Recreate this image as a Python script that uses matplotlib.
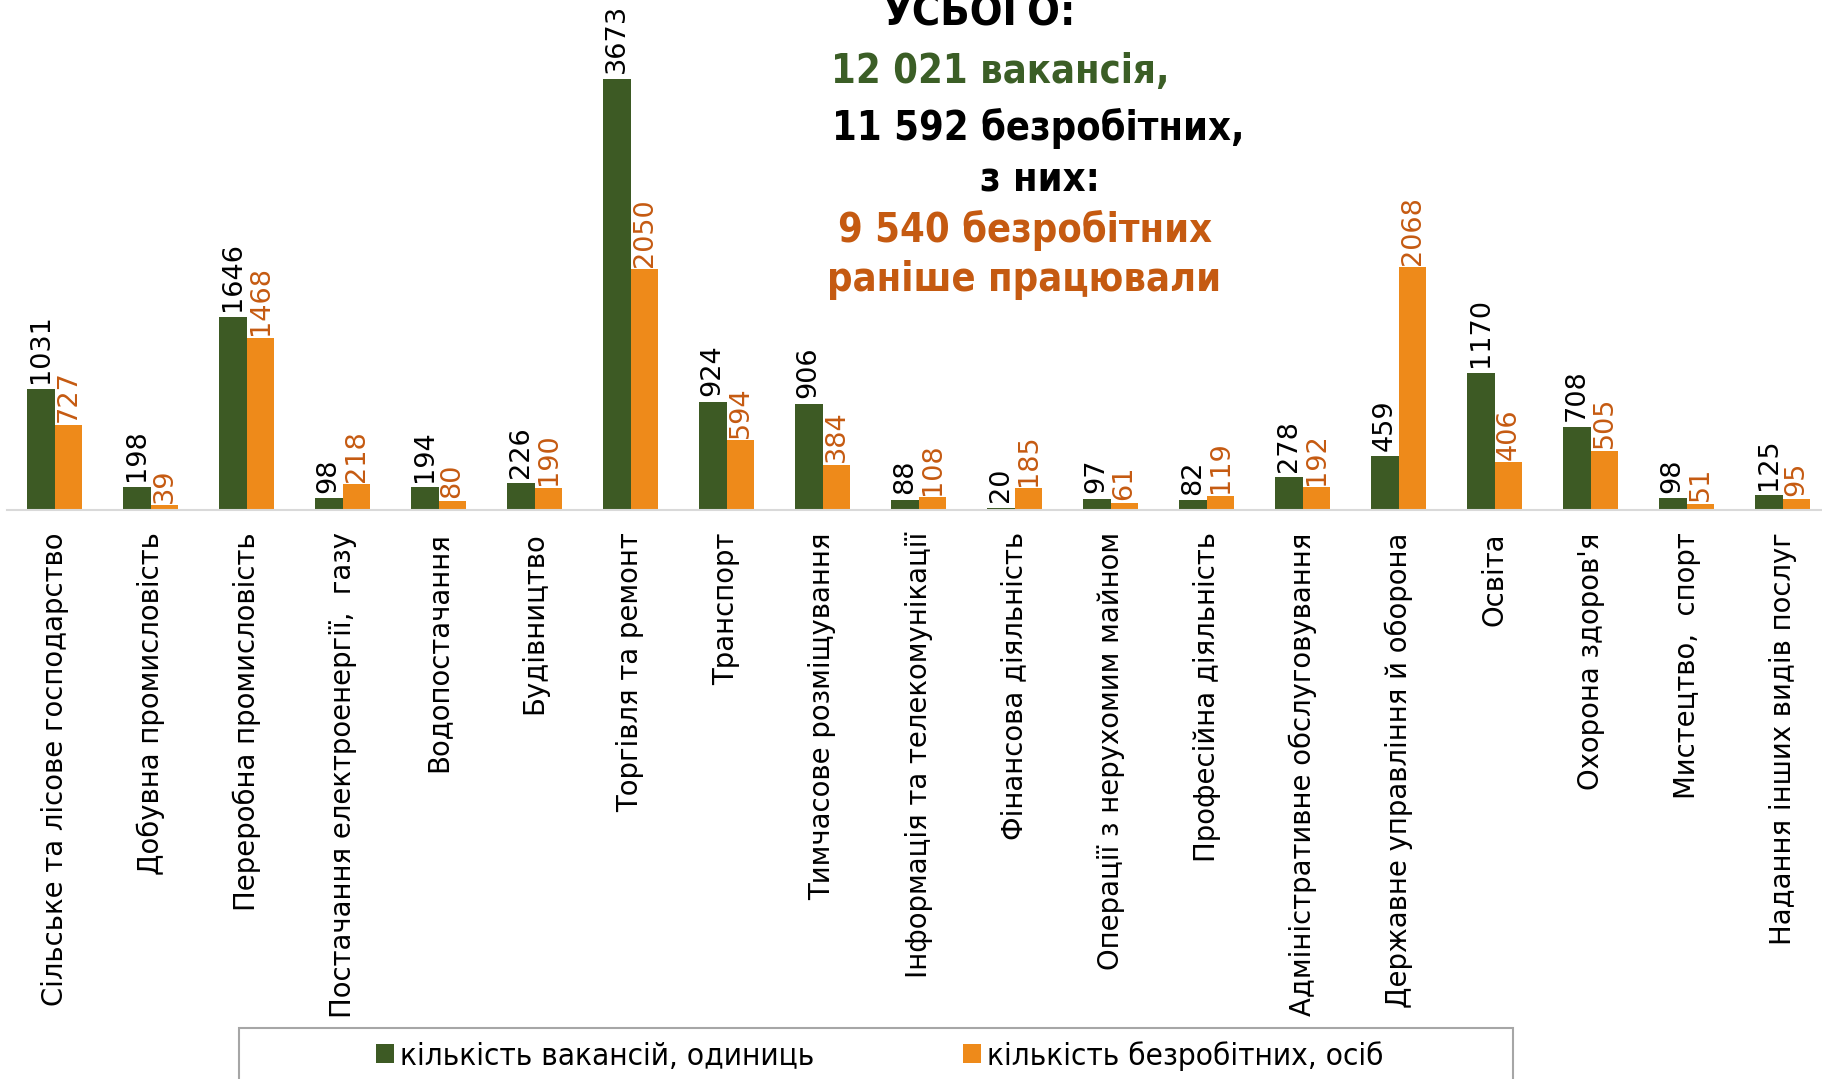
import matplotlib
matplotlib.use("Agg")
import matplotlib.pyplot as plt
from matplotlib.patches import Rectangle

categories = [
    "Сільське та лісове господарство",
    "Добувна промисловість",
    "Переробна промисловість",
    "Постачання електроенергії,  газу",
    "Водопостачання",
    "Будівництво",
    "Торгівля та ремонт",
    "Транспорт",
    "Тимчасове розміщування",
    "Інформація та телекомунікації",
    "Фінансова діяльність",
    "Операції з нерухомим майном",
    "Професійна діяльність",
    "Адміністративне обслуговування",
    "Державне управління й оборона",
    "Освіта",
    "Охорона здоров'я",
    "Мистецтво,  спорт",
    "Надання інших видів послуг",
]
vacancies = [1031, 198, 1646, 98, 194, 226, 3673, 924, 906, 88, 20, 97, 82, 278, 459, 1170, 708, 98, 125]
unemployed = [727, 39, 1468, 218, 80, 190, 2050, 594, 384, 108, 185, 61, 119, 192, 2068, 406, 505, 51, 95]
series_labels = ["кількість вакансій, одиниць", "кількість безробітних, осіб"]

GREEN = "#3d5a24"
ORANGE = "#ee8a1a"
ORANGE_TXT = "#c55a11"
TITLE_GREEN = "#3b5e26"

W, H = 1822, 1079
fig = plt.figure(figsize=(W / 100, H / 100), dpi=100)

font = "DejaVu Sans"

left_px = 6.6
base_px = 510
ax = fig.add_axes([left_px / W, (H - base_px) / H, 1 - left_px / W, base_px / H])
x = list(range(len(categories)))
bw = 0.29
b1 = ax.bar([i - bw / 2 for i in x], vacancies, bw, color=GREEN, label=series_labels[0])
b2 = ax.bar([i + bw / 2 for i in x], unemployed, bw, color=ORANGE, label=series_labels[1])
ax.set_xlim(-0.5, 18.41)
ax.set_ylim(0, 4346)
for s in ["top", "right", "left"]:
    ax.spines[s].set_visible(False)
ax.spines["bottom"].set_color("#d9d9d9")
ax.spines["bottom"].set_linewidth(1.5)
ax.set_yticks([])
ax.set_xticks(x)
ax.set_xticklabels(categories, rotation=90, ha="center", va="top", fontsize=19.8, family=font)
ax.tick_params(axis="x", length=0, pad=16)

for rect, v in zip(b1, vacancies):
    ax.annotate(str(v), (rect.get_x() + rect.get_width() / 2, v), xytext=(0, 4),
                textcoords="offset points", rotation=90, ha="center", va="bottom",
                fontsize=19.5, color="black", family=font)
for rect, v in zip(b2, unemployed):
    ax.annotate(str(v), (rect.get_x() + rect.get_width() / 2, v), xytext=(0, 2),
                textcoords="offset points", rotation=90, ha="center", va="bottom",
                fontsize=19.5, color=ORANGE_TXT, family=font)

# title block
tfont = dict(family=font, fontweight="bold", fontstretch="condensed")
lines = [
    ("УСЬОГО:", 980, 25, "black", 31),
    ("12 021 вакансія,", 1000, 83, TITLE_GREEN, 28.5),
    ("11 592 безробітних,", 1038, 140, "black", 28.5),
    ("з них:", 1040, 191, "black", 28.5),
    ("9 540 безробітних", 1025, 242, ORANGE_TXT, 28.5),
    ("раніше працювали", 1024, 291, ORANGE_TXT, 28.5),
]
for txt, cx, by, col, fs in lines:
    fig.text(cx / W, 1 - by / H, txt, ha="center", va="baseline", color=col, fontsize=fs, **tfont)

# legend
leg = fig.legend(handles=[b1, b2], labels=series_labels, loc="center left",
                 bbox_to_anchor=(348 / W, 1 - 1056 / H), ncol=2, frameon=False,
                 handlelength=0.56, handleheight=0.56, handletextpad=0.2,
                 columnspacing=4.75,
                 prop=dict(family=font, stretch="condensed", size=22.6))
fig.patches.append(Rectangle((239 / W, -0.1), (1513 - 239) / W, 0.1 + (H - 1028) / H,
                             transform=fig.transFigure, fill=False, edgecolor="#a6a6a6",
                             linewidth=1.5, clip_on=False))

fig.savefig("out.png", dpi=100)
